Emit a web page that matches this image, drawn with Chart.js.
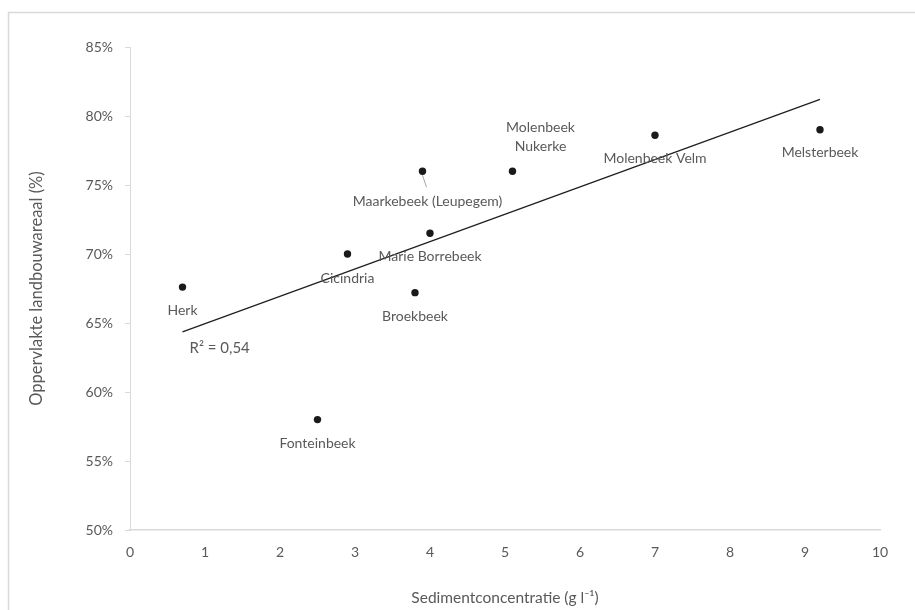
<!DOCTYPE html>
<html><head><meta charset="utf-8">
<script src="https://cdn.jsdelivr.net/npm/chart.js@4"></script>
<style>html,body{margin:0;padding:0;background:#fff}#wrap{width:915px;height:610px;position:relative}</style>
</head><body><div id="wrap"><canvas id="c" width="915" height="610"></canvas></div>
<script>
// ---- data ----
const riverNames = ['Herk','Cicindria','Fonteinbeek','Broekbeek','Marie Borrebeek','Maarkebeek (Leupegem)',['Molenbeek','Nukerke'],'Molenbeek Velm','Melsterbeek'];
const sedimentConc = [0.7, 2.9, 2.5, 3.8, 4.0, 3.9, 5.1, 7.0, 9.2];
const agriArea = [67.6, 70.0, 58.0, 67.2, 71.5, 76.0, 76.0, 78.6, 79.0];
const trendX = [0.7, 9.2];
const trendY = [64.35, 81.2];
const rSquaredText = 'R² = 0,54';
const xTickValues = [0,1,2,3,4,5,6,7,8,9,10];
const yTickValues = [50,55,60,65,70,75,80,85];
const xTitle = 'Sedimentconcentratie (g l\u207B\u00B9)';
const yTitle = 'Oppervlakte landbouwareaal (%)';

// ---- label placement (pixel offsets from each point) ----
const labelOffsets = [[0,23],[0,24],[0,24],[0,24],[0,23],[5,30],[28,-44],[0,23],[0,23]];
const leaderLines = {5: [[0,4],[4,16]]};

const GRAY = '#595959';
const FONT = 'Lato, "Open Sans", sans-serif';

const framePlugin = {
  id: 'frame',
  beforeDraw(chart) {
    const ctx = chart.ctx;
    ctx.save();
    ctx.strokeStyle = '#d9d9d9';
    ctx.lineWidth = 1.5;
    ctx.strokeRect(8.5, 12.5, 1000, 1000);
    ctx.restore();
  }
};

const labelPlugin = {
  id: 'pointLabels',
  afterDatasetsDraw(chart) {
    const ctx = chart.ctx;
    const meta = chart.getDatasetMeta(0);
    ctx.save();
    ctx.font = '14px ' + FONT;
    ctx.fillStyle = GRAY;
    ctx.textAlign = 'center';
    ctx.textBaseline = 'middle';
    meta.data.forEach((pt, i) => {
      const [dx, dy] = labelOffsets[i];
      const lines = Array.isArray(riverNames[i]) ? riverNames[i] : [riverNames[i]];
      lines.forEach((ln, k) => ctx.fillText(ln, pt.x + dx, pt.y + dy + k * 19));
      if (leaderLines[i]) {
        const [a, b] = leaderLines[i];
        ctx.strokeStyle = '#a6a6a6';
        ctx.lineWidth = 1;
        ctx.beginPath();
        ctx.moveTo(pt.x + a[0], pt.y + a[1]);
        ctx.lineTo(pt.x + b[0], pt.y + b[1]);
        ctx.stroke();
      }
    });
    const tmeta = chart.getDatasetMeta(1);
    const p0 = tmeta.data[0];
    ctx.font = '15px ' + FONT;
    ctx.textAlign = 'left';
    ctx.fillText(rSquaredText, p0.x + 7, p0.y + 16);
    ctx.restore();
  }
};

new Chart(document.getElementById('c'), {
  type: 'scatter',
  data: {
    datasets: [
      {
        data: sedimentConc.map((x, i) => ({x, y: agriArea[i]})),
        pointRadius: 3.7,
        pointHoverRadius: 3.7,
        backgroundColor: '#1a1a1a',
        borderColor: '#1a1a1a',
        borderWidth: 0
      },
      {
        type: 'line',
        data: trendX.map((x, i) => ({x, y: trendY[i]})),
        borderColor: '#1f1f1f',
        borderWidth: 1.3,
        pointRadius: 0,
        fill: false
      }
    ]
  },
  options: {
    responsive: false,
    devicePixelRatio: 1,
    animation: false,
    layout: { padding: { top: 47, right: 35, left: 0, bottom: 0 } },
    plugins: { legend: { display: false }, tooltip: { enabled: false } },
    scales: {
      x: {
        type: 'linear',
        min: 0, max: 10,
        afterBuildTicks: s => { s.ticks = xTickValues.map(v => ({value: v})); },
        afterFit: s => { s.height = 80; },
        grid: { display: false, drawTicks: false },
        border: { display: true, color: '#d9d9d9', width: 1.5 },
        ticks: { color: GRAY, font: { size: 14, family: FONT }, padding: 14, maxRotation: 0 },
        title: { display: true, text: xTitle, color: GRAY, font: { size: 15.5, family: FONT }, padding: { top: 0, bottom: 3 } }
      },
      y: {
        type: 'linear',
        min: 50, max: 85,
        afterBuildTicks: s => { s.ticks = yTickValues.map(v => ({value: v})); },
        afterFit: s => { s.width = 130; },
        grid: { display: true, drawOnChartArea: false, drawTicks: true, tickLength: 5, color: '#d9d9d9' },
        border: { display: true, color: '#d9d9d9', width: 1 },
        ticks: { color: GRAY, font: { size: 14, family: FONT }, padding: 12, callback: v => v + '%' },
        title: { display: true, text: yTitle, color: GRAY, font: { size: 16.5, family: FONT }, padding: { top: 27, bottom: 0 } }
      }
    }
  },
  plugins: [framePlugin, labelPlugin]
});
</script>
</body></html>
